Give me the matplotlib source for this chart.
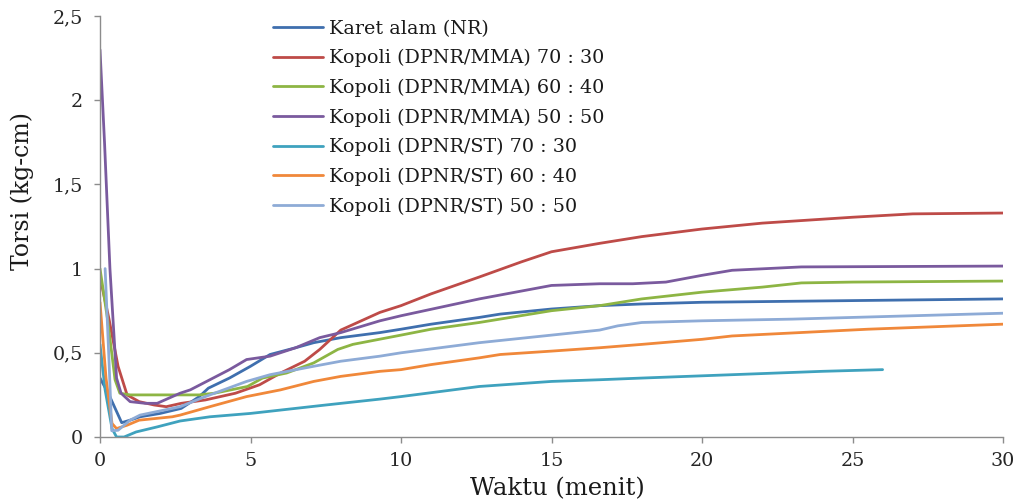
import matplotlib
matplotlib.use("Agg")
import matplotlib.pyplot as plt

# ---- data ----
nr_x = [0, 0.3, 0.72, 1.0, 1.33, 2.0, 2.7, 3.3, 3.6, 4.3, 5.0, 5.65, 6.5, 7.1, 8.0, 9.3, 10.0, 11.0, 12.6, 13.3, 15.0, 16.6, 18.0, 20.0, 25.0, 30.0]
nr_y = [0.35, 0.25, 0.085, 0.10, 0.12, 0.14, 0.17, 0.24, 0.29, 0.35, 0.42, 0.49, 0.53, 0.56, 0.59, 0.62, 0.64, 0.67, 0.71, 0.73, 0.76, 0.78, 0.79, 0.80, 0.81, 0.82]

mma70_x = [0, 0.3, 0.6, 0.9, 1.3, 1.8, 2.2, 2.7, 3.5, 4.5, 5.3, 6.0, 6.8, 7.3, 8.0, 9.3, 10.0, 11.0, 12.6, 14.0, 15.0, 16.6, 18.0, 20.0, 22.0, 25.0, 27.0, 30.0]
mma70_y = [0.95, 0.70, 0.42, 0.25, 0.21, 0.19, 0.18, 0.20, 0.22, 0.26, 0.31, 0.38, 0.45, 0.52, 0.635, 0.74, 0.78, 0.85, 0.95, 1.04, 1.10, 1.15, 1.19, 1.235, 1.27, 1.305, 1.325, 1.33]

mma60_x = [0, 0.25, 0.5, 0.66, 1.0, 2.0, 2.7, 3.3, 3.8, 4.9, 5.4, 6.2, 7.1, 7.9, 8.4, 10.0, 11.0, 12.6, 15.0, 16.6, 18.0, 20.0, 22.0, 23.3, 25.0, 30.0]
mma60_y = [1.0, 0.70, 0.34, 0.26, 0.25, 0.25, 0.25, 0.25, 0.26, 0.30, 0.35, 0.38, 0.44, 0.52, 0.55, 0.605, 0.64, 0.68, 0.75, 0.78, 0.82, 0.86, 0.89, 0.915, 0.92, 0.926]

mma50_x = [0, 0.15, 0.33, 0.55, 0.7, 1.0, 1.5, 1.9, 2.66, 3.0, 3.65, 4.3, 4.87, 5.65, 6.5, 7.3, 8.0, 9.3, 10.0, 12.6, 13.5, 15.0, 16.6, 17.7, 18.8, 20.0, 21.0, 23.3, 30.0]
mma50_y = [2.3, 1.75, 1.0, 0.35, 0.26, 0.21, 0.20, 0.20, 0.26, 0.28, 0.34, 0.40, 0.46, 0.48, 0.53, 0.59, 0.62, 0.69, 0.72, 0.82, 0.85, 0.90, 0.91, 0.91, 0.92, 0.96, 0.99, 1.01, 1.015]

st70_x = [0, 0.17, 0.4, 0.55, 0.8, 1.2, 1.9, 2.66, 3.65, 5.0, 6.0, 7.5, 9.3, 10.0, 12.6, 15.0, 16.6, 18.0, 21.0, 24.0, 26.0]
st70_y = [0.55, 0.28, 0.05, 0.0, 0.0, 0.03, 0.06, 0.095, 0.12, 0.14, 0.16, 0.19, 0.225, 0.24, 0.30, 0.33, 0.34, 0.35, 0.37, 0.39, 0.40]

st60_x = [0, 0.2, 0.4, 0.55, 0.9, 1.3, 2.4, 2.66, 3.65, 4.87, 6.0, 7.1, 8.0, 9.3, 10.0, 11.0, 12.6, 13.3, 15.0, 16.6, 18.0, 20.0, 21.0, 25.5, 30.0]
st60_y = [0.80, 0.35, 0.08, 0.05, 0.07, 0.10, 0.12, 0.13, 0.18, 0.24, 0.28, 0.33, 0.36, 0.39, 0.40, 0.43, 0.47, 0.49, 0.51, 0.53, 0.55, 0.58, 0.60, 0.64, 0.67]

st50_x = [0.17, 0.3, 0.39, 0.6, 1.0, 1.33, 2.4, 2.66, 3.5, 4.87, 5.65, 7.1, 8.0, 9.3, 10.0, 12.6, 15.0, 16.6, 17.2, 18.0, 20.0, 23.0, 25.0, 30.0]
st50_y = [1.0, 0.45, 0.037, 0.04, 0.10, 0.13, 0.17, 0.18, 0.24, 0.33, 0.37, 0.42, 0.45, 0.48, 0.50, 0.56, 0.605, 0.635, 0.66, 0.68, 0.69, 0.70, 0.71, 0.735]

labels = ["Karet alam (NR)",
          "Kopoli (DPNR/MMA) 70 : 30",
          "Kopoli (DPNR/MMA) 60 : 40",
          "Kopoli (DPNR/MMA) 50 : 50",
          "Kopoli (DPNR/ST) 70 : 30",
          "Kopoli (DPNR/ST) 60 : 40",
          "Kopoli (DPNR/ST) 50 : 50"]
xs = [nr_x, mma70_x, mma60_x, mma50_x, st70_x, st60_x, st50_x]
ys = [nr_y, mma70_y, mma60_y, mma50_y, st70_y, st60_y, st50_y]
colors = ["#3F6FAE", "#BE4B48", "#8DB544", "#7A5A9E", "#3FA2BE", "#F0883A", "#8EABD6"]

x_ticks = [0, 5, 10, 15, 20, 25, 30]
y_ticks = [0, 0.5, 1, 1.5, 2, 2.5]
y_tick_labels = ["0", "0,5", "1", "1,5", "2", "2,5"]

plt.rcParams['font.family'] = ['DejaVu Serif']

fig = plt.figure(figsize=(10.17, 5.01), dpi=100)
ax = fig.add_axes([100/1017, 64/501, 903/1017, 421/501])

for x, y, c, l in zip(xs, ys, colors, labels):
    ax.plot(x, y, color=c, lw=2.0, label=l, solid_capstyle='round', solid_joinstyle='round')

ax.set_xlim(0, 30)
ax.set_ylim(0, 2.5)
ax.set_xticks(x_ticks)
ax.set_xticklabels([str(t) for t in x_ticks])
ax.set_yticks(y_ticks)
ax.set_yticklabels(y_tick_labels)

for s in ['top', 'right']:
    ax.spines[s].set_visible(False)
for s in ['left', 'bottom']:
    ax.spines[s].set_color('#8C8C8C')
    ax.spines[s].set_linewidth(1.0)
ax.tick_params(axis='both', direction='out', length=4.5, width=1.0, color='#8C8C8C',
               labelsize=13.8, labelcolor='#262626')
ax.tick_params(axis='x', pad=6)
ax.tick_params(axis='y', pad=8)

ax.set_xlabel("Waktu (menit)", fontsize=17.5, color='#1a1a1a', labelpad=0)
ax.xaxis.set_label_coords(0.506, -0.095)
ax.set_ylabel("Torsi (kg-cm)", fontsize=17, color='#1a1a1a')
ax.yaxis.set_label_coords(-0.073, 0.585)

leg = ax.legend(loc='upper left', bbox_to_anchor=(0.183, 1.0095), frameon=False,
                fontsize=13.8, handlelength=2.6, handletextpad=0.35, labelspacing=0.595,
                borderaxespad=0.0)
for t in leg.get_texts():
    t.set_color('#1a1a1a')

fig.savefig("out.png", dpi=100)
